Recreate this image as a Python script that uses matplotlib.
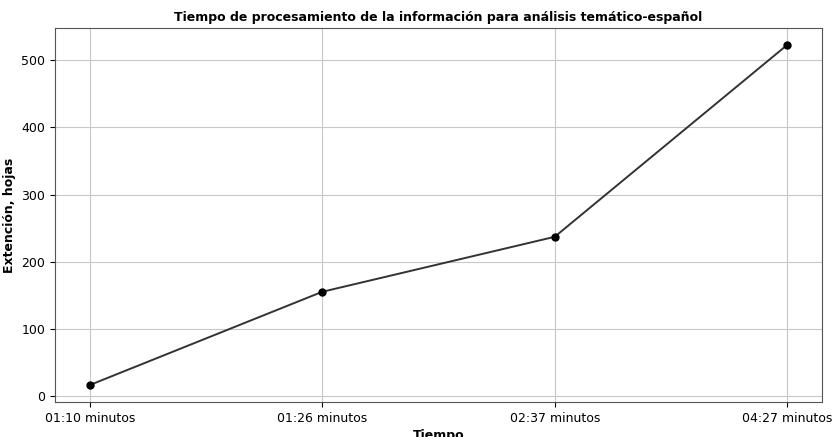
import matplotlib.pyplot as plt

tiempos = ["01:10 minutos", "01:26 minutos", "02:37 minutos", "04:27 minutos"]
hojas = [16, 155, 237, 523]

fig = plt.figure(figsize=(8.32, 4.37), dpi=100)
ax = fig.add_axes([0.066, 0.080, 0.922, 0.856])
ax.plot(tiempos, hojas, color="#333333", lw=1.4, zorder=3)
ax.plot(tiempos, hojas, "o", color="black", ms=5, zorder=4)
ax.grid(True, color="#c8c8c8", lw=0.8)
ax.set_axisbelow(True)
ax.tick_params(labelsize=9)
ax.set_xlabel("Tiempo", fontsize=9, fontweight="bold", labelpad=3)
ax.set_ylabel("Extención, hojas", fontsize=9, fontweight="bold")
ax.set_title("Tiempo de procesamiento de la información para análisis temático-español",
             fontsize=9, fontweight="bold", pad=5)
for s in ax.spines.values():
    s.set_color("#555555")
fig.savefig("out.png", dpi=100)
